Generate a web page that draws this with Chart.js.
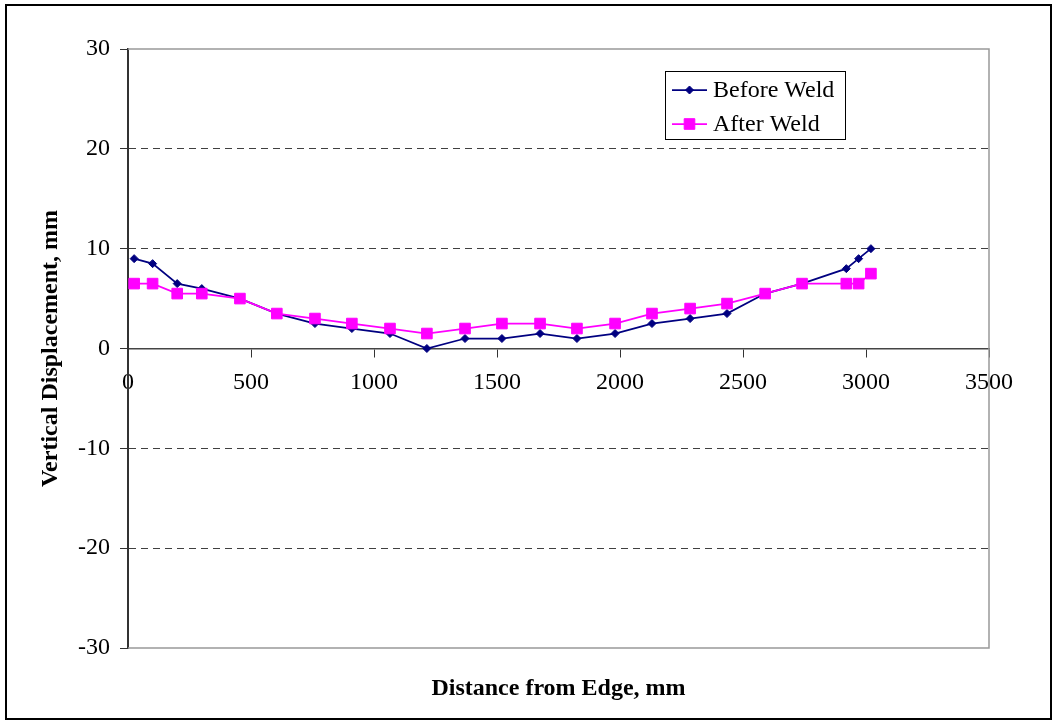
<!DOCTYPE html>
<html>
<head>
<meta charset="utf-8">
<script src="https://cdn.jsdelivr.net/npm/chart.js@4.4.0/dist/chart.umd.min.js"></script>
<style>
  html, body { margin: 0; padding: 0; background: #fff; }
  #wrap { position: relative; width: 1053px; height: 725px; }
</style>
</head>
<body>
<div id="wrap"><canvas id="chart"></canvas></div>
<script>
// measuring stations along the plate (mm from edge)
const distance = [25, 100, 200, 300, 455, 605, 760, 910, 1065, 1215, 1370, 1520, 1675, 1825, 1980, 2130, 2285, 2435, 2590, 2740, 2920, 2970, 3020];
// vertical displacement (mm)
const beforeWeld = [9, 8.5, 6.5, 6, 5, 3.5, 2.5, 2, 1.5, 0, 1, 1, 1.5, 1, 1.5, 2.5, 3, 3.5, 5.5, 6.5, 8, 9, 10];
const afterWeld = [6.5, 6.5, 5.5, 5.5, 5, 3.5, 3, 2.5, 2, 1.5, 2, 2.5, 2.5, 2, 2.5, 3.5, 4, 4.5, 5.5, 6.5, 6.5, 6.5, 7.5];
const seriesNames = ['Before Weld', 'After Weld'];
const xTicks = ['0', '500', '1000', '1500', '2000', '2500', '3000', '3500'];
const yTicks = ['-30', '-20', '-10', '0', '10', '20', '30'];

const SERIF = "'Liberation Serif', 'Times New Roman', serif";
Chart.defaults.font.family = SERIF;
Chart.defaults.color = '#000';

const toPoints = ys => distance.map((x, i) => ({ x: x, y: ys[i] }));

// grey frame on top/right/bottom of the plot area, outer figure border
const frame = {
    id: 'frame',
    beforeDatasetsDraw(chart) {
        const { ctx, chartArea: a } = chart;
        ctx.save();
        ctx.strokeStyle = '#999';
        ctx.lineWidth = 1.5;
        ctx.beginPath();
        ctx.moveTo(a.left, a.top);
        ctx.lineTo(a.right, a.top);
        ctx.lineTo(a.right, a.bottom);
        ctx.lineTo(a.left, a.bottom);
        ctx.stroke();
        ctx.restore();
    },
    afterDraw(chart) {
        const ctx = chart.ctx;
        ctx.save();
        ctx.strokeStyle = '#000';
        ctx.lineWidth = 2;
        ctx.strokeRect(6, 5, 1045, 714);
        ctx.restore();
    }
};

// boxed legend inside the plot, upper right
const boxLegend = {
    id: 'boxLegend',
    afterDraw(chart) {
        const ctx = chart.ctx;
        ctx.save();
        ctx.fillStyle = '#fff';
        ctx.fillRect(665.5, 71.5, 180, 68);
        ctx.strokeStyle = '#000';
        ctx.lineWidth = 1;
        ctx.strokeRect(665.5, 71.5, 180, 68);
        chart.data.datasets.forEach((ds, i) => {
            const y = 90 + i * 34;
            ctx.strokeStyle = ds.borderColor;
            ctx.lineWidth = ds.borderWidth;
            ctx.beginPath();
            ctx.moveTo(672, y);
            ctx.lineTo(707, y);
            ctx.stroke();
            ctx.fillStyle = ds.pointBackgroundColor;
            ctx.strokeStyle = ds.pointBorderColor;
            ctx.lineWidth = ds.pointBorderWidth;
            Chart.helpers.drawPoint(ctx, {
                pointStyle: ds.pointStyle, radius: ds.pointRadius,
                borderWidth: ds.pointBorderWidth, rotation: 0
            }, 689.5, y);
            ctx.fillStyle = '#000';
            ctx.font = '24px ' + SERIF;
            ctx.textBaseline = 'middle';
            ctx.fillText(ds.label, 713, y + 1);
        });
        ctx.restore();
    }
};

new Chart(document.getElementById('chart'), {
    type: 'line',
    data: {
        datasets: [
            {
                label: seriesNames[0], data: toPoints(beforeWeld),
                borderColor: '#000080', backgroundColor: '#000080', borderWidth: 1.75,
                pointStyle: 'rectRot', pointRadius: 4, pointBorderWidth: 1,
                pointBackgroundColor: '#000080', pointBorderColor: '#000080',
                tension: 0, order: 1
            },
            {
                label: seriesNames[1], data: toPoints(afterWeld),
                borderColor: '#FF00FF', backgroundColor: '#FF00FF', borderWidth: 1.75,
                pointStyle: 'rect', pointRadius: 7.5, pointBorderWidth: 1,
                pointBackgroundColor: '#FF00FF', pointBorderColor: '#FF00FF',
                tension: 0, order: 0
            }
        ]
    },
    options: {
        responsive: true,
        maintainAspectRatio: false,
        animation: false,
        events: [],
        layout: { padding: { left: 10, top: 49, right: 64, bottom: 21.6 } },
        scales: {
            x: {
                type: 'linear', min: 0, max: 3500, position: { y: 0 },
                ticks: {
                    stepSize: 500, padding: 12, autoSkip: false, maxRotation: 0,
                    font: { size: 24 }, color: '#000',
                    callback: (v, i) => xTicks[i]
                },
                grid: { drawOnChartArea: false, tickColor: '#333', tickLength: 8 },
                border: { color: '#444', width: 1.5 },
                afterFit: s => { s.height = 0; }
            },
            y: {
                type: 'linear', min: -30, max: 30,
                ticks: {
                    stepSize: 10, padding: 10,
                    font: { size: 24 }, color: '#000',
                    callback: (v, i) => yTicks[i]
                },
                grid: {
                    color: c => (c.tick && c.tick.value % 30 === 0) ? 'rgba(0,0,0,0)' : '#404040',
                    lineWidth: 1, tickColor: '#333', tickLength: 8
                },
                border: { color: '#333', width: 2, dash: [7, 5] },
                title: {
                    display: true, text: 'Vertical Displacement, mm', color: '#000',
                    font: { size: 24, weight: 'bold' }, padding: { top: 26, bottom: 0 }
                },
                afterFit: s => { s.width = 118; }
            }
        },
        plugins: {
            legend: { display: false },
            tooltip: { enabled: false },
            title: {
                display: true, position: 'bottom', fullSize: false,
                text: 'Distance from Edge, mm', color: '#000',
                font: { size: 24, weight: 'bold' }, padding: { top: 26.6, bottom: 0 }
            }
        }
    },
    plugins: [frame, boxLegend]
});
</script>
</body>
</html>
